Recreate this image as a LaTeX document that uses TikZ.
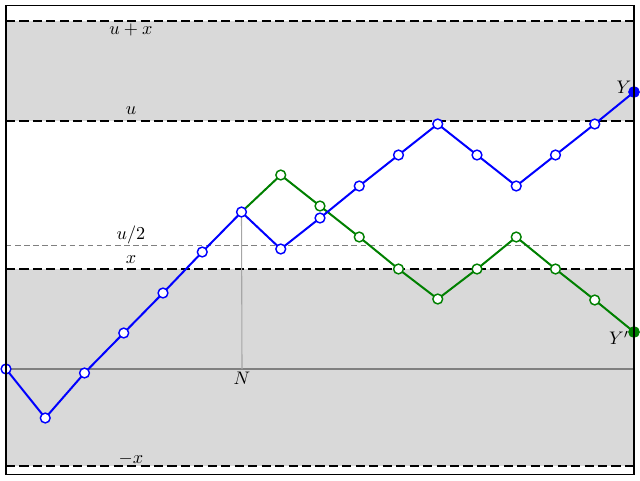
\documentclass[tikz,border=0pt]{standalone}
\begin{document}
\begin{tikzpicture}[x=0.55pt,y=-0.55pt,
  bluept/.style={circle,draw=blue,fill=white,line width=0.8pt,inner sep=0pt,minimum size=5.4pt},
  greenpt/.style={circle,draw=green!50!black,fill=white,line width=0.8pt,inner sep=0pt,minimum size=5.4pt},
  bluefull/.style={circle,draw=blue,fill=blue,inner sep=0pt,minimum size=6pt},
  greenfull/.style={circle,draw=green!50!black,fill=green!50!black,inner sep=0pt,minimum size=6pt},
  bluepath/.style={blue,line width=1.1pt},
  greenpath/.style={green!50!black,line width=1.1pt},
  level/.style={black,line width=1.1pt,dash pattern=on 5pt off 2.4pt},
  halflevel/.style={gray,line width=0.55pt,dash pattern=on 3pt off 2pt},
  band/.style={fill=gray!30},
  lbl/.style={inner sep=1pt}]
\useasboundingbox (0,0) rectangle (640,480);
% bands
\fill[band] (6,21) rectangle (634,121);
\fill[band] (6,269) rectangle (634,466);
% levels
\draw[level] (6,21) -- (634,21);
\draw[level] (6,121) -- (634,121);
\draw[halflevel] (6,245) -- (634,245);
\draw[level] (6,269) -- (634,269);
\draw[level] (6,466) -- (634,466);
\draw[gray,line width=0.6pt] (6,369) -- (634,369);
% labels of levels
\node[lbl] at (131,30) {$u+x$};
\node[lbl] at (131,111) {$u$};
\node[lbl] at (131,235) {$u/2$};
\node[lbl] at (131,260) {$x$};
\node[lbl] at (131,459) {$-x$};
% coordinates of the walks
\foreach \i/\yy in {0/369,1/418,2/373,3/333,4/293,5/252,6/212,7/249,8/218,9/186,10/155,11/124,12/155,13/186,14/155,15/124,16/92}
  \coordinate (b\i) at ({6+39.25*\i},\yy);
\foreach \i/\yy in {7/175,8/206,9/237,10/269,11/299,12/269,13/237,14/269,15/300,16/332}
  \coordinate (g\i) at ({6+39.25*\i},\yy);
\coordinate (g6) at (b6);
\coordinate (n0) at (242,369);
% N marker
\draw[gray!70,line width=0.6pt] (b6) -- (n0);
\node[lbl,anchor=north] (nl) at (242,369.5) {$N$};
% green path
\draw[greenpath] (g6) \foreach \i in {7,...,16}{ -- (g\i)};
\foreach \i in {7,...,15} \node[greenpt] (gp\i) at (g\i) {};
\node[greenfull] (gp16) at (g16) {};
% blue path
\draw[bluepath] (b0) \foreach \i in {1,...,16}{ -- (b\i)};
\foreach \i in {0,...,15} \node[bluept] (bp\i) at (b\i) {};
\node[bluefull] (bp16) at (b16) {};
% end labels
\node[lbl] (yl) at (624,87) {$Y$};
\node[lbl] (ypl) at (619,338) {$Y'$};
% frame
\draw[line width=0.6pt] (6,5.5) rectangle (634,474.5);
\end{tikzpicture}
\end{document}
